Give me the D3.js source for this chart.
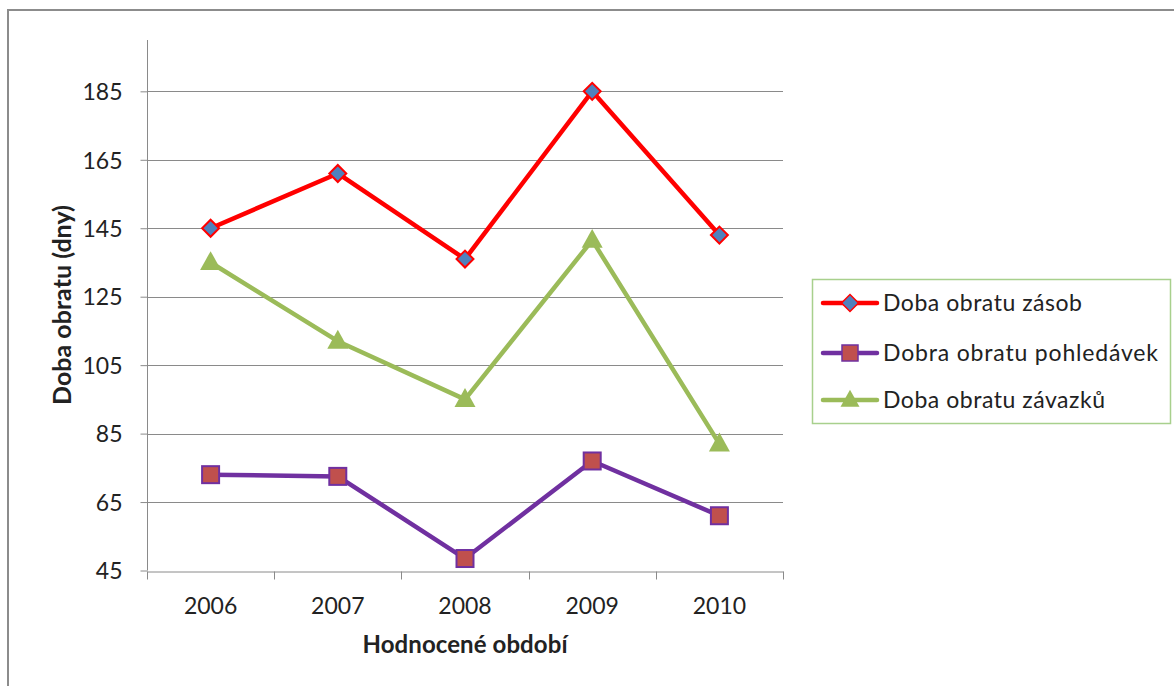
<!DOCTYPE html>
<html><head><meta charset="utf-8">
<script src="https://cdn.jsdelivr.net/npm/d3@7"></script>
<style>body{margin:0;background:#fff}svg{display:block}text{font-family:Lato,"Open Sans",sans-serif;fill:#222}</style>
</head><body>
<svg id="c" width="1174" height="686"></svg>
<script>
const years = ["2006","2007","2008","2009","2010"];
const zasob = [145, 161, 136, 185, 143];
const pohledavek = [73, 72.5, 48.5, 77, 61];
const zavazku = [135, 112, 95, 141.5, 82];
const seriesNames = ["Doba obratu zásob","Dobra obratu pohledávek","Doba obratu závazků"];
const yTicks = [45,65,85,105,125,145,165,185];

const series = [
  {name:seriesNames[0], values:zasob, line:"#ff0000", fill:"#4f81bd", stroke:"#ff0000", shape:"diamond", tl:199},
  {name:seriesNames[1], values:pohledavek, line:"#7030a0", fill:"#c0504d", stroke:"#7030a0", shape:"square", tl:275},
  {name:seriesNames[2], values:zavazku, line:"#9bbb59", fill:"#9bbb59", stroke:"#9bbb59", shape:"triangle", tl:222}
];

const svg = d3.select("#c");
const L=147, R=783, T=40, B=570.5;
const x = d3.scaleBand().domain(years).range([L,R]);
const y = d3.scaleLinear().domain([45,200]).range([B,T]);

// outer border
svg.append("rect").attr("x",8).attr("y",10).attr("width",1300).attr("height",800)
  .attr("fill","none").attr("stroke","#8c8c8c").attr("stroke-width",2);

// gridlines
svg.append("g").selectAll("line").data(yTicks.slice(1)).join("line")
  .attr("x1",L).attr("x2",R).attr("y1",d=>Math.round(y(d))+0.5).attr("y2",d=>Math.round(y(d))+0.5)
  .attr("stroke","#8a8a8a").attr("stroke-width",1);

// y axis
const ya = svg.append("g").attr("transform",`translate(${L+0.5},0)`)
  .call(d3.axisLeft(y).tickValues(yTicks).tickSize(7).tickPadding(18).tickFormat(d3.format("d")));
ya.select(".domain").attr("d",`M0,${T}V${B}`).attr("stroke","#8a8a8a");
ya.selectAll(".tick line").attr("stroke","#8a8a8a");
ya.selectAll(".tick text").attr("font-size",23).attr("font-family","Lato,sans-serif").attr("fill","#222").attr("dy","0.36em");

// x axis
const xa = svg.append("g").attr("transform",`translate(0,${Math.round(B)+0.5})`)
  .call(d3.axisBottom(x).tickSize(0));
xa.select(".domain").attr("stroke","#8a8a8a");
xa.selectAll(".tick text").attr("font-size",23).attr("font-family","Lato,sans-serif").attr("fill","#222")
  .attr("y",42).attr("dy",0);
const bounds = years.map(d=>x(d)).concat([R]);
xa.selectAll("line.bt").data(bounds).join("line").attr("class","bt")
  .attr("x1",d=>Math.round(d)+0.5).attr("x2",d=>Math.round(d)+0.5).attr("y1",0).attr("y2",8)
  .attr("stroke","#8a8a8a");

// axis titles
svg.append("text").attr("x",(L+R)/2).attr("y",653).attr("text-anchor","middle")
  .attr("font-size",24).attr("font-weight","bold")
  .attr("textLength",205).attr("lengthAdjust","spacing").text("Hodnocené období");
svg.append("text").attr("transform",`translate(71,305) rotate(-90)`).attr("text-anchor","middle")
  .attr("font-size",25).attr("font-weight","bold")
  .attr("textLength",200).attr("lengthAdjust","spacing").text("Doba obratu (dny)");

function marker(g, shape, s){
  if(shape==="diamond") return g.append("rect").attr("x",-s/2).attr("y",-s/2).attr("width",s).attr("height",s).attr("transform","rotate(45)");
  if(shape==="square") return g.append("rect").attr("x",-s/2).attr("y",-s/2).attr("width",s).attr("height",s);
  const h = s*0.9;
  return g.append("path").attr("d",`M0,${-h*0.6}L${s/2},${h*0.4}L${-s/2},${h*0.4}Z`);
}

const line = d3.line().x((d,i)=>x(years[i])+x.bandwidth()/2).y(d=>y(d));
series.forEach(s=>{
  svg.append("path").attr("d",line(s.values)).attr("fill","none").attr("stroke",s.line)
    .attr("stroke-width",4.5).attr("stroke-linejoin","round");
});
series.forEach(s=>{
  s.values.forEach((v,i)=>{
    const g = svg.append("g").attr("transform",`translate(${x(years[i])+x.bandwidth()/2},${y(v)})`);
    const sz = s.shape==="diamond"?12:(s.shape==="square"?17:21);
    marker(g,s.shape,sz).attr("fill",s.fill).attr("stroke",s.stroke).attr("stroke-width",s.shape==="triangle"?0:2);
  });
});

// legend
const lg = svg.append("g");
lg.append("rect").attr("x",812.5).attr("y",279.5).attr("width",358).attr("height",144)
  .attr("fill","#fff").attr("stroke","#a8d08d").attr("stroke-width",1.5);
const ly = [303,353,400];
series.forEach((s,i)=>{
  lg.append("line").attr("x1",823).attr("x2",877).attr("y1",ly[i]).attr("y2",ly[i])
    .attr("stroke",s.line).attr("stroke-width",4.5).attr("stroke-linecap","round");
  const g = lg.append("g").attr("transform",`translate(850,${ly[i]})`);
  const sz = s.shape==="diamond"?12:(s.shape==="square"?16:19);
  marker(g,s.shape,sz).attr("fill",s.fill).attr("stroke",s.stroke).attr("stroke-width",s.shape==="triangle"?0:1.5);
  lg.append("text").attr("x",883).attr("y",ly[i]+8).attr("font-size",23)
    .attr("textLength",s.tl).attr("lengthAdjust","spacing").text(s.name);
});
</script>
</body></html>
